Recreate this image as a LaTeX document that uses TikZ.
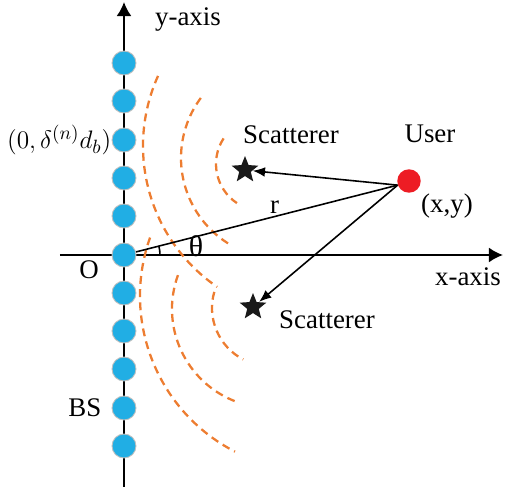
\documentclass[tikz,border=0pt]{standalone}
\usepackage{fontspec}
\setmainfont{Liberation Serif}
\usepackage{tikz}
\usetikzlibrary{angles,arrows.meta,calc,positioning,shapes.geometric}
\definecolor{bsblue}{RGB}{33,174,228}
\definecolor{userred}{RGB}{237,28,36}
\definecolor{waveorange}{RGB}{237,125,49}
\tikzset{%
	axis/.style    = {line width=1.1pt, -{Latex[length=8pt,width=8.5pt]}},
	element/.style = {circle, fill=bsblue, draw=black!25, line width=0.5pt, minimum size=0.48cm, inner sep=0pt},
	userdot/.style = {circle, fill=userred, minimum size=0.47cm, inner sep=0pt},
	scatter/.style = {star, star points=5, star point ratio=2.3, fill=black!90, minimum size=0.56cm, inner sep=0pt},
	ray/.style     = {line width=0.9pt, -{Latex[length=7pt,width=5.5pt]}},
	wave/.style    = {waveorange, line width=1.3pt, dash pattern=on 4.5pt off 3pt},
	lbl/.style     = {font=\fontsize{15.3}{18}\selectfont, inner sep=0pt},
}

\begin{document}
\begin{tikzpicture}[x=0.02cm,y=0.02cm]
	\useasboundingbox (0,0) rectangle (505,-487);
	\coordinate (ytop) at (124,-2);
	\coordinate (ybot) at (124,-487);
	\coordinate (xleft) at (60,-255);
	\coordinate (xend) at (503,-255);
	
	\draw[axis] (ybot) -- (ytop);
	\draw[axis] (xleft) -- (xend);
	
	% wavefronts, upper group
	\draw[wave] ([shift={(155.8:171)}]314,-146) arc[start angle=155.8, end angle=235.5, radius=171];
	\draw[wave] ([shift={(143.5:101)}]282,-158) arc[start angle=143.5, end angle=239.1, radius=101];
	\draw[wave] ([shift={(147:47)}]263,-164) arc[start angle=147, end angle=236.3, radius=47];
	% wavefronts, lower group
	\draw[wave] ([shift={(160.5:175)}]315,-296) arc[start angle=160.5, end angle=242.8, radius=175];
	\draw[wave] ([shift={(160:99)}]271,-309) arc[start angle=160, end angle=249.8, radius=99];
	\draw[wave] ([shift={(163.9:58)}]270,-308) arc[start angle=163.9, end angle=242.5, radius=58];
	
	% antenna elements
	\node[element] (bs0) at (124,-63) {};
	\node[element] (bs1) at (124,-101) {};
	\node[element] (bs2) at (124,-140) {};
	\node[element] (bs3) at (124,-178) {};
	\node[element] (bs4) at (124,-216) {};
	\node[element] (bs5) at (124,-255) {};
	\node[element] (bs6) at (124,-293) {};
	\node[element] (bs7) at (124,-331) {};
	\node[element] (bs8) at (124,-369) {};
	\node[element] (bs9) at (124,-408) {};
	\node[element] (bs10) at (124,-446) {};
	
	\node[userdot] (user) at (409,-181) {};
	\node[scatter] (sc1) at (245,-170) {};
	\node[scatter] (sc2) at (253,-307) {};
	
	\draw[ray] (user.200) -- (sc1);
	\draw[ray] (user.200) -- (sc2);
	\draw[line width=0.9pt] (bs5) -- node[lbl, above, pos=0.53, inner sep=1.5pt] (rlab) {r} (user.200);
	\pic[draw, line width=0.9pt, angle radius=0.72cm] {angle=xend--bs5--user};
	
	\node[lbl] (ylab) at (188,-20) {y-axis};
	\node[lbl] (xlab) at (468,-277) {x-axis};
	\node[lbl, left=0pt of bs2] (poslab) {$(0,\delta^{(n)}d_b)$};
	\node[lbl, left=0.2cm of bs9] (bslab) {BS};
	\node[lbl] (olab) at (89,-270) {O};
	\node[lbl] (thlab) at (196,-246) {\fontsize{17}{18}\selectfont θ};
	\node[lbl] (userlab) at (430,-134) {User};
	\node[lbl] (xylab) at (447,-206) {(x,y)};
	\node[lbl] (sclab1) at (291,-135) {Scatterer};
	\node[lbl] (sclab2) at (327,-320) {Scatterer};
	
\end{tikzpicture}
\end{document}
